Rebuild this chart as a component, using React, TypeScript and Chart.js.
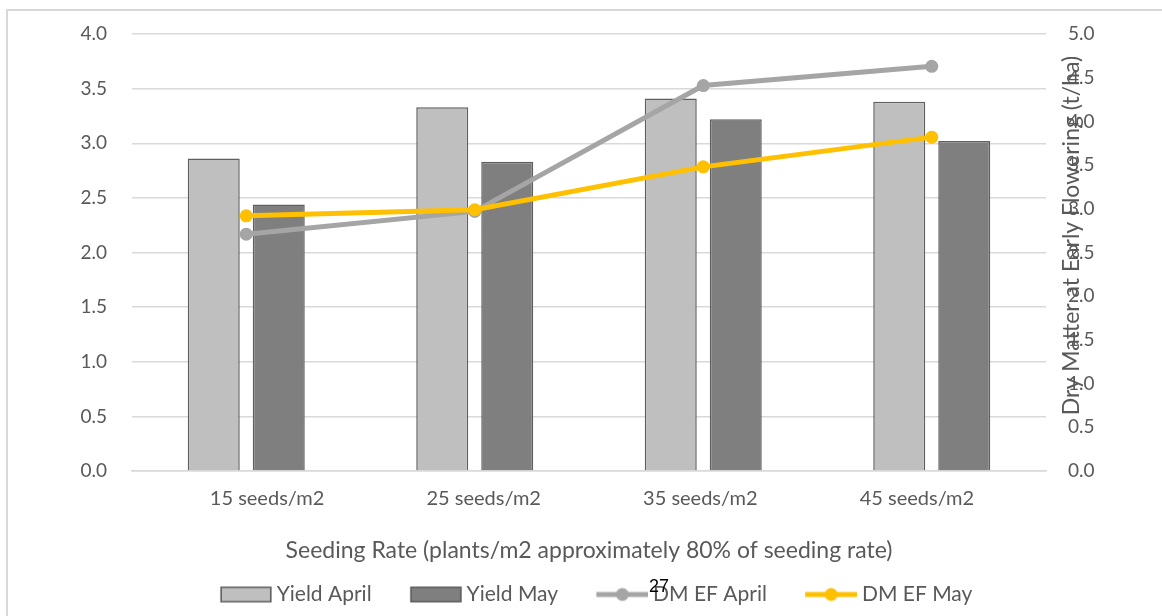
import React, { useEffect, useRef } from "react";
import { Chart, registerables } from "chart.js";

Chart.register(...registerables);

const categories = ["15 seeds/m2", "25 seeds/m2", "35 seeds/m2", "45 seeds/m2"];
const yieldApril = [2.86, 3.33, 3.41, 3.38];
const yieldMay = [2.44, 2.83, 3.22, 3.02];
const dmEfApril = [2.71, 2.97, 4.41, 4.63];
const dmEfMay = [2.92, 2.99, 3.48, 3.82];
const seriesNames = ["Yield April", "Yield May", "DM EF April", "DM EF May"];
const xTitle = "Seeding Rate (plants/m2 approximately 80% of seeding rate)";
const rightTitle = "Dry Matter at Early Flowering (t/ha)";
const pageNumber = "27";

const FONT = "Lato, 'Open Sans', sans-serif";
const TEXT = "#595959";
const GRID = "#D9D9D9";
const LIGHT = "#BFBFBF";
const DARK = "#7F7F7F";
const BAR_BORDER = "#5F5F5F";
const GRAY_LINE = "#A5A5A5";
const YELLOW = "#FFC000";

const CANVAS_W = 1166;
const CANVAS_H = 607;
const AREA_BOTTOM = 462;
const PAD_LEFT = 14;
const PAD_BOTTOM = 1;
const LEGEND_FONT = 21;
const MARKER = 52;
const K = LEGEND_FONT / 2 - 5;
const BOX_W = MARKER - K;
const IMG_W = Math.round(BOX_W + 2 * K);
// the source's category labels sit slightly closer together than the categories
const LABEL_SPREAD = 0.948;
const LABEL_SHIFT = 3;

function rectImage(fill: string): HTMLCanvasElement {
  const c = document.createElement("canvas");
  c.width = IMG_W;
  c.height = 18;
  const x = c.getContext("2d")!;
  const x0 = IMG_W - MARKER;
  x.fillStyle = fill;
  x.fillRect(x0 + 0.5, 1, MARKER - 1, 16);
  x.strokeStyle = BAR_BORDER;
  x.lineWidth = 1.5;
  x.strokeRect(x0 + 1.25, 1.75, MARKER - 2.5, 14.5);
  return c;
}

function lineImage(color: string): HTMLCanvasElement {
  const c = document.createElement("canvas");
  c.width = IMG_W;
  c.height = 16;
  const x = c.getContext("2d")!;
  const x0 = IMG_W - MARKER;
  x.strokeStyle = color;
  x.lineWidth = 5;
  x.beginPath();
  x.moveTo(x0, 8);
  x.lineTo(IMG_W, 8);
  x.stroke();
  x.fillStyle = color;
  x.beginPath();
  x.arc(x0 + MARKER / 2, 8, 6.5, 0, Math.PI * 2);
  x.fill();
  return c;
}

const rightTitlePlugin = {
  id: "rightTitle",
  afterDraw(chart: any) {
    const s = chart.scales.y1;
    const area = chart.chartArea;
    const ctx = chart.ctx;
    ctx.save();
    ctx.translate(s.left + 26, (area.top + area.bottom) / 2 - 17);
    ctx.rotate(-Math.PI / 2);
    ctx.font = `23px ${FONT}`;
    ctx.fillStyle = TEXT;
    ctx.textAlign = "center";
    ctx.textBaseline = "middle";
    ctx.fillText(rightTitle, 0, 0);
    ctx.restore();
  },
};

// spreads only the tick-label positions (applied at draw time, after bars are laid out)
const labelSpreadPlugin = {
  id: "labelSpread",
  beforeDraw(chart: any) {
    const s = chart.scales.x;
    if (!s || s.__origTick) return;
    const orig = s.getPixelForTick;
    s.__origTick = orig;
    s._labelItems = null;
    s.getPixelForTick = function (i: number) {
      const p = orig.call(s, i);
      const c = (s.left + s.right) / 2;
      return c + (p - c) * LABEL_SPREAD + LABEL_SHIFT;
    };
  },
  afterDraw(chart: any) {
    const s = chart.scales.x;
    if (!s || !s.__origTick) return;
    s.getPixelForTick = s.__origTick;
    s.__origTick = null;
  },
};

export default function App() {
  const ref = useRef<HTMLCanvasElement | null>(null);

  useEffect(() => {
    if (!ref.current) return;
    const markers = [rectImage(LIGHT), rectImage(DARK), lineImage(GRAY_LINE), lineImage(YELLOW)];
    const fixY = (w: number) => (s: any) => {
      s.width = w;
      s.paddingTop = 0;
      s.paddingBottom = 0;
    };
    const chart = new Chart(ref.current, {
      type: "bar",
      data: {
        labels: categories,
        datasets: [
          {
            type: "bar",
            label: seriesNames[0],
            data: yieldApril,
            backgroundColor: LIGHT,
            borderColor: BAR_BORDER,
            borderWidth: 1.5,
            yAxisID: "y",
            order: 2,
            categoryPercentage: 0.569,
            barPercentage: 0.8,
          },
          {
            type: "bar",
            label: seriesNames[1],
            data: yieldMay,
            backgroundColor: DARK,
            borderColor: BAR_BORDER,
            borderWidth: 1.5,
            yAxisID: "y",
            order: 2,
            categoryPercentage: 0.569,
            barPercentage: 0.8,
          },
          {
            type: "line",
            label: seriesNames[2],
            data: dmEfApril,
            borderColor: GRAY_LINE,
            backgroundColor: GRAY_LINE,
            borderWidth: 5,
            pointRadius: 6.5,
            pointBorderWidth: 0,
            pointBackgroundColor: GRAY_LINE,
            yAxisID: "y1",
            order: 1,
          },
          {
            type: "line",
            label: seriesNames[3],
            data: dmEfMay,
            borderColor: YELLOW,
            backgroundColor: YELLOW,
            borderWidth: 5,
            pointRadius: 6.5,
            pointBorderWidth: 0,
            pointBackgroundColor: YELLOW,
            yAxisID: "y1",
            order: 0,
          },
        ] as any,
      },
      options: {
        responsive: false,
        animation: false,
        layout: { padding: { top: 25, bottom: PAD_BOTTOM, left: PAD_LEFT, right: 0 } },
        plugins: {
          tooltip: { enabled: false },
          legend: {
            position: "bottom",
            labels: {
              usePointStyle: true,
              pointStyleWidth: BOX_W,
              boxHeight: 18,
              padding: 38,
              color: TEXT,
              font: { family: FONT, size: LEGEND_FONT },
              sort: (a: any, b: any) => a.datasetIndex - b.datasetIndex,
              generateLabels: (ch: any) =>
                ch.data.datasets.map((ds: any, i: number) => ({
                  text: ds.label,
                  fillStyle: ds.backgroundColor,
                  strokeStyle: ds.borderColor,
                  lineWidth: 0,
                  pointStyle: markers[i],
                  hidden: false,
                  datasetIndex: i,
                  fontColor: TEXT,
                })),
            },
          },
        },
        scales: {
          x: {
            grid: { display: false, drawTicks: false },
            border: { display: true, color: GRID, width: 1.5 },
            ticks: {
              color: TEXT,
              font: { family: FONT, size: 20 },
              padding: 16,
            },
            title: {
              display: true,
              text: xTitle,
              color: TEXT,
              font: { family: FONT, size: 23 },
              padding: { top: 20, bottom: -18 },
            },
            afterFit: (s: any) => {
              const leg = s.chart.legend ? s.chart.legend.height : 0;
              s.height = s.chart.height - AREA_BOTTOM - leg - PAD_BOTTOM;
            },
          },
          y: {
            position: "left",
            min: 0,
            max: 4,
            ticks: {
              stepSize: 0.5,
              color: TEXT,
              padding: 25,
              font: { family: FONT, size: 19 },
              callback: (v: any) => Number(v).toFixed(1),
            },
            grid: { color: GRID, lineWidth: 1.5, drawTicks: false },
            border: { display: false },
            afterFit: fixY(126 - PAD_LEFT),
          },
          y1: {
            position: "right",
            min: 0,
            max: 5,
            ticks: {
              stepSize: 0.5,
              color: TEXT,
              padding: 22,
              font: { family: FONT, size: 19 },
              callback: (v: any) => Number(v).toFixed(1),
            },
            grid: { display: false, drawTicks: false },
            border: { display: false },
            afterFit: fixY(126),
          },
        },
      } as any,
      plugins: [rightTitlePlugin, labelSpreadPlugin],
    });
    return () => chart.destroy();
  }, []);

  return (
    <div
      style={{
        position: "fixed",
        left: 0,
        top: 0,
        width: 1162,
        height: 616,
        overflow: "hidden",
        background: "#fff",
      }}
    >
      <div
        style={{
          position: "absolute",
          left: 6,
          top: 9,
          width: 1300,
          height: 800,
          border: `2px solid ${GRID}`,
          boxSizing: "border-box",
        }}
      />
      <canvas
        ref={ref}
        width={CANVAS_W}
        height={CANVAS_H}
        style={{ position: "absolute", left: 6, top: 9, width: CANVAS_W, height: CANVAS_H }}
      />
      <div
        style={{
          position: "absolute",
          left: 649,
          top: 576,
          fontFamily: "'Liberation Sans', Arial, sans-serif",
          fontSize: 18,
          color: "#000",
          lineHeight: "20px",
        }}
      >
        {pageNumber}
      </div>
    </div>
  );
}
